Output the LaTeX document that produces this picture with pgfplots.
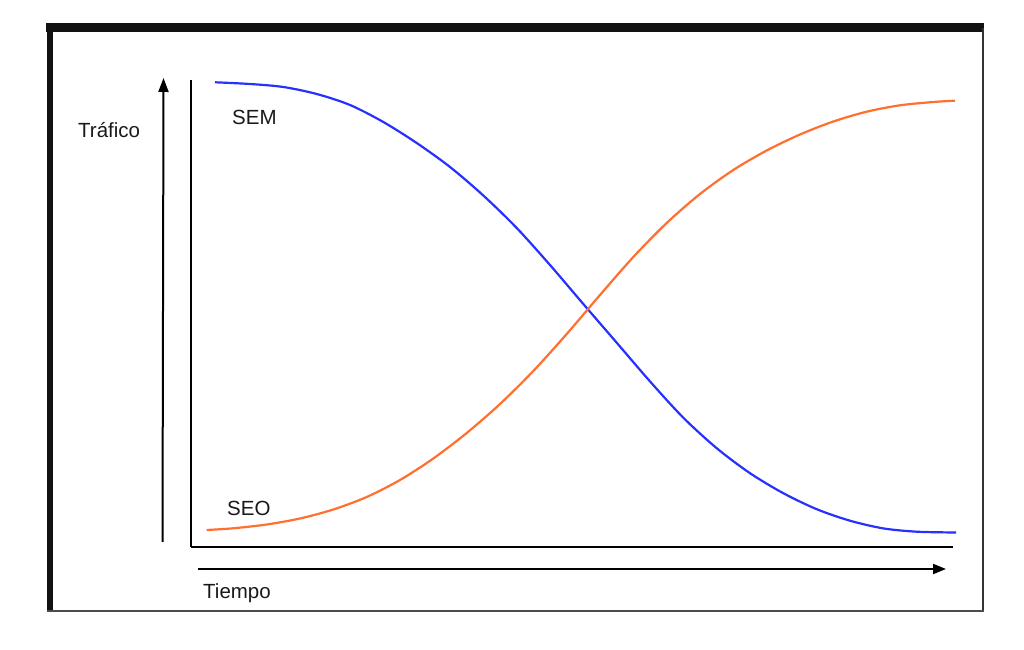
\documentclass[border=0pt]{standalone}
\usepackage{fontspec}
\setmainfont{Liberation Sans}
\usepackage{pgfplots}
\pgfplotsset{compat=1.18}
\usetikzlibrary{arrows.meta}
\definecolor{sem}{RGB}{38,48,255}
\definecolor{seo}{RGB}{255,112,48}
\begin{document}
\begin{tikzpicture}
\path[use as bounding box] (0,0) rectangle (1024bp,650bp);
% frame
\draw[line width=8.5bp,black!93] (46bp,622.5bp) -- (984bp,622.5bp);
\draw[line width=6.5bp,black!93] (50bp,626.75bp) -- (50bp,38.5bp);
\draw[line width=2bp,black!80] (983bp,622bp) -- (983bp,38.5bp);
\draw[line width=1.6bp,black!70] (47bp,39bp) -- (984bp,39bp);
% arrows
\draw[line width=2bp,-{Triangle[length=14bp,width=10bp]}] (162.5bp,108bp) -- (163.5bp,572bp);
\draw[line width=2bp,-{Triangle[length=13bp,width=10bp]}] (198bp,81bp) -- (946bp,81bp);
\begin{axis}[
  at={(191bp,103bp)}, anchor=south west,
  scale only axis, width=762bp, height=467bp,
  xmin=191, xmax=953, ymin=103, ymax=570,
  axis lines=left, axis line style={-, line width=2bp, black},
  ticks=none, clip=false,
]
\addplot[sem, line width=2.2bp, smooth] coordinates {
(215,567.7) (250,566) (283.3,563) (316.7,556) (350,545) (383.3,528)
(416.7,507) (450,483) (483.3,454.5) (516.7,422) (550,385) (583.3,346)
(616.7,307.3) (650,268.6) (683.3,232.3) (716.7,201.8) (750,176.8)
(783.3,156.8) (816.7,140.8) (850,129.3) (883.3,121.6) (916.7,118.3) (956,117.5)
};
\addplot[seo, line width=2.2bp, smooth] coordinates {
(206.7,120) (233.3,121.7) (266.7,125.5) (300,131.5) (333.3,140.5)
(366.7,153) (400,170) (433.3,191.5) (466.7,217) (500,246) (533.3,279)
(566.7,316) (600,355) (633.3,393) (666.7,427) (700,456) (733.3,480)
(766.7,499.5) (800,515.5) (833.3,528.5) (866.7,538.3) (900,544.7)
(933.3,548) (955,549.3)
};
\end{axis}
\begin{scope}[every node/.style={inner sep=0pt, anchor=base west, font=\fontsize{20.5bp}{24bp}\selectfont, text=black!90}]
\node at (78bp,512bp) {Tráfico};
\node at (232bp,525bp) {SEM};
\node at (227bp,134bp) {SEO};
\node at (203bp,51bp) {Tiempo};
\end{scope}
\end{tikzpicture}
\end{document}
